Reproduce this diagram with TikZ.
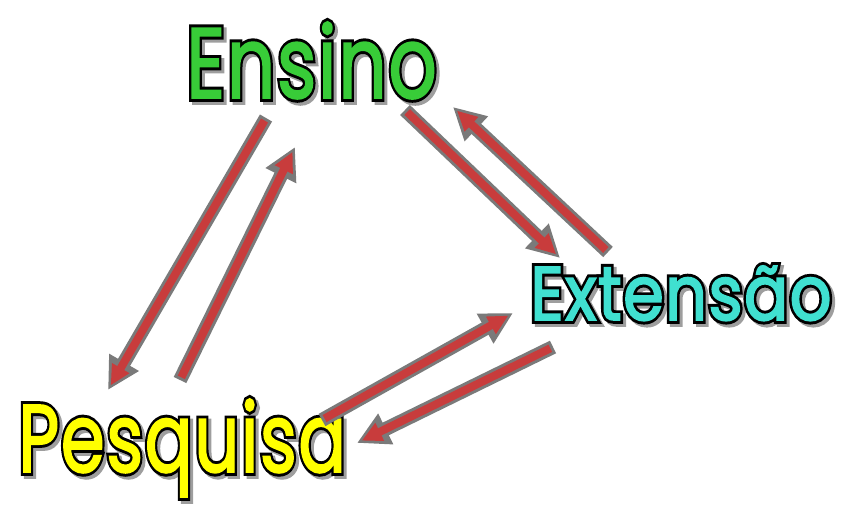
\documentclass[tikz,border=0pt]{standalone}
\usepackage{fontspec}
\usepackage{graphicx}
\setmainfont{Poppins}
\newfontfamily\palavra[LetterSpace=2]{Poppins}
\usetikzlibrary{positioning,calc,arrows.meta}
\definecolor{verdeE}{HTML}{38CC38}
\definecolor{amareloP}{HTML}{FFFF00}
\definecolor{turquesaX}{HTML}{40E0D0}
\definecolor{vermelhoS}{HTML}{C83C3C}
\definecolor{cinzaS}{HTML}{7A7A7A}
% largura, cor do traco (RG), texto: contorno preto por baixo, preenchimento por cima
\newcommand{\rotulo}[3]{\resizebox{#1}{\height}{\rlap{\special{pdf:literal direct 0 0 0 RG 1 Tr 5.8 w}#3\special{pdf:literal direct 0 Tr}}\special{pdf:literal direct #2 RG 2 Tr 1.4 w}#3\special{pdf:literal direct 0 Tr}}}
\newcommand{\sombra}[2]{\resizebox{#1}{\height}{\special{pdf:literal direct 0.62 0.62 0.62 RG 2 Tr 5.8 w}#2\special{pdf:literal direct 0 Tr}}}
\tikzset {
    style palavra/.style={
        font=\palavra\fontsize{#1}{#1}\selectfont,
        inner sep=0pt,
        anchor=base west,
    },
    style sombra/.style={
        style palavra=#1,
        text=black!38,
    },
    seta/.style={
        preaction={draw=cinzaS, line width=10.5pt, shorten <=0pt, shorten >=0pt,
            -{Triangle[length=24pt,width=24pt]}},
        draw=vermelhoS,
        line width=6pt,
        shorten <=2.2pt,
        shorten >=4pt,
        -{Triangle[length=15pt,width=14pt]},
    },
}
\begin{document}
\begin{tikzpicture}[x=0.75pt,y=-0.75pt]
        \useasboundingbox (0,0) rectangle (850,517);
        % sombras
        \node[style sombra=75] at (189,101) {\sombra{188pt}{Ensino}};
        \node[style sombra=57] at (533,323) {\sombra{226pt}{Extensão}};
        \node[style sombra=72] at (21,475) {\sombra{246pt}{Pesquisa}};
        % palavras
        \node[style palavra=75, text=verdeE] (ensino) at (186,98) {\rotulo{188pt}{0.22 0.8 0.22}{Ensino}};
        \node[style palavra=57, text=turquesaX] (extensao) at (530,320) {\rotulo{226pt}{0.25 0.878 0.816}{Extensão}};
        \node[style palavra=72, text=amareloP] (pesquisa) at (18,472) {\rotulo{246pt}{1 1 0}{Pesquisa}};
        % pontas das setas
        \coordinate (e-p) at ($(ensino.base west)+(80,20)$);
        \coordinate (p-e) at ($(ensino.base west)+(109,49)$);
        \coordinate (e-x) at ($(ensino.base west)+(219,12)$);
        \coordinate (x-e) at ($(ensino.base west)+(267,9)$);
        \coordinate (x-ee) at ($(extensao.base west)+(78,-68)$);
        \coordinate (x-ep) at ($(extensao.base west)+(30,-62)$);
        \coordinate (x-p) at ($(extensao.base west)+(23,27)$);
        \coordinate (x-pp) at ($(extensao.base west)+(-17,-7)$);
        \coordinate (p-x) at ($(pesquisa.base west)+(304,-52)$);
        \coordinate (p-xp) at ($(pesquisa.base west)+(339,-29)$);
        \coordinate (p-ep) at ($(pesquisa.base west)+(162,-92)$);
        \coordinate (p-ee) at ($(pesquisa.base west)+(90,-82)$);
        \draw[seta] (e-p) -- (p-ee);
        \draw[seta] (p-ep) -- (p-e);
        \draw[seta] (e-x) -- (x-ep);
        \draw[seta] (x-ee) -- (x-e);
        \draw[seta] (p-x) -- (x-pp);
        \draw[seta] (x-p) -- (p-xp);
    \end{tikzpicture}
\end{document}
